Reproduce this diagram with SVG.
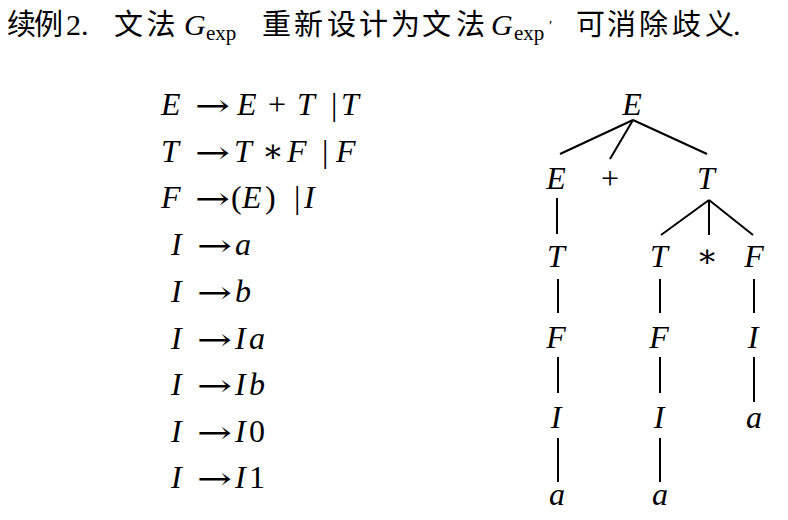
<svg xmlns="http://www.w3.org/2000/svg" width="788" height="520" viewBox="0 0 788 520">
<style>
.cjk{font-family:"Noto Sans CJK SC","Noto Sans CJK JP",sans-serif;font-size:29px;fill:#000}
.rm{font-family:"Liberation Serif","DejaVu Serif",serif;font-size:32px;fill:#000}
.ar{font-family:"DejaVu Serif","DejaVu Sans",serif;font-size:30px;fill:#000}
.it{font-family:"Liberation Serif","DejaVu Serif",serif;font-size:32px;font-style:italic;fill:#000}
.tr{text-anchor:middle}
.sub{font-family:"Liberation Serif","DejaVu Serif",serif;font-size:21px;fill:#000}
.edge{stroke:#000;stroke-width:2;fill:none;stroke-linecap:butt}
</style>
<rect width="788" height="520" fill="#fff"/>
<g id="title">
<text class="cjk" x="7 34" y="35">续例</text>
<text class="rm" x="66" y="35" style="font-size:30px">2.</text>
<text class="cjk" x="114 146.5" y="35">文法</text>
<text class="it" x="184" y="35" style="font-size:30px">G</text>
<text class="sub" x="206" y="40">exp</text>
<text class="cjk" x="262 294 327 359 391 422 456" y="35">重新设计为文法</text>
<text class="it" x="491" y="35" style="font-size:30px">G</text>
<text class="sub" x="514" y="40">exp</text>
<text class="sub" x="549" y="31" style="font-size:15px">′</text>
<text class="cjk" x="576 607 639 672 705" y="35">可消除歧义</text>
<text class="rm" x="733" y="35" style="font-size:30px">.</text>
</g>
<g id="grammar">
<g id="rule-E">
<text class="it" x="161" y="115">E</text><text class="ar" x="195" y="116" textLength="35" lengthAdjust="spacingAndGlyphs">→</text>
<text class="it" x="237" y="115">E</text><text class="rm" x="268" y="115">+</text><text class="it" x="297" y="115">T</text>
<text class="rm" x="331" y="115">|</text><text class="it" x="341" y="115">T</text>
</g>
<g id="rule-T">
<text class="it" x="161" y="162">T</text><text class="ar" x="195" y="163" textLength="35" lengthAdjust="spacingAndGlyphs">→</text>
<text class="it" x="234" y="162">T</text><text class="rm" x="262" y="162">∗</text><text class="it" x="287" y="162">F</text>
<text class="rm" x="322" y="162">|</text><text class="it" x="336" y="162">F</text>
</g>
<g id="rule-F">
<text class="it" x="161" y="208">F</text><text class="ar" x="195" y="209" textLength="35" lengthAdjust="spacingAndGlyphs">→</text>
<text class="rm" x="231" y="208">(</text><text class="it" x="242" y="208">E</text><text class="rm" x="265" y="208">)</text>
<text class="rm" x="294" y="208">|</text><text class="it" x="304" y="208">I</text>
</g>
<g id="rule-I1"><text class="it" x="171" y="255">I</text><text class="ar" x="197" y="256" textLength="35" lengthAdjust="spacingAndGlyphs">→</text><text class="it" x="235" y="255">a</text></g>
<g id="rule-I2"><text class="it" x="171" y="302">I</text><text class="ar" x="197" y="303" textLength="35" lengthAdjust="spacingAndGlyphs">→</text><text class="it" x="235" y="302">b</text></g>
<g id="rule-I3"><text class="it" x="171" y="349">I</text><text class="ar" x="197" y="350" textLength="35" lengthAdjust="spacingAndGlyphs">→</text><text class="it" x="235" y="349">I</text><text class="it" x="249" y="349">a</text></g>
<g id="rule-I4"><text class="it" x="171" y="395">I</text><text class="ar" x="197" y="396" textLength="35" lengthAdjust="spacingAndGlyphs">→</text><text class="it" x="235" y="395">I</text><text class="it" x="249" y="395">b</text></g>
<g id="rule-I5"><text class="it" x="171" y="442">I</text><text class="ar" x="197" y="443" textLength="35" lengthAdjust="spacingAndGlyphs">→</text><text class="it" x="235" y="442">I</text><text class="rm" x="249" y="442">0</text></g>
<g id="rule-I6"><text class="it" x="171" y="488">I</text><text class="ar" x="197" y="489" textLength="35" lengthAdjust="spacingAndGlyphs">→</text><text class="it" x="235" y="488">I</text><text class="rm" x="249" y="488">1</text></g>
</g>
<g id="connectors">
<line class="edge" x1="633" y1="120" x2="560" y2="154"/>
<line class="edge" x1="633" y1="120" x2="610" y2="159"/>
<line class="edge" x1="633" y1="120" x2="707" y2="154"/>
<line class="edge" x1="557" y1="198" x2="557" y2="234"/>
<line class="edge" x1="709" y1="200" x2="661" y2="235"/>
<line class="edge" x1="709" y1="200" x2="709" y2="235"/>
<line class="edge" x1="709" y1="200" x2="753" y2="235"/>
<line class="edge" x1="558" y1="279" x2="558" y2="313"/>
<line class="edge" x1="660" y1="279" x2="660" y2="313"/>
<line class="edge" x1="754" y1="279" x2="754" y2="313"/>
<line class="edge" x1="558" y1="357" x2="558" y2="393"/>
<line class="edge" x1="660" y1="357" x2="660" y2="393"/>
<line class="edge" x1="754" y1="357" x2="754" y2="402"/>
<line class="edge" x1="558" y1="438" x2="558" y2="482"/>
<line class="edge" x1="660" y1="438" x2="660" y2="482"/>
</g>
<g id="n-E-root"><text class="it tr" x="632" y="115">E</text></g>
<g id="n-E"><text class="it tr" x="556" y="189">E</text></g>
<g id="n-plus"><text class="rm tr" x="610" y="189">+</text></g>
<g id="n-T"><text class="it tr" x="706" y="189">T</text></g>
<g id="n-T-left"><text class="it tr" x="556" y="267">T</text></g>
<g id="n-T-mid"><text class="it tr" x="659" y="267">T</text></g>
<g id="n-star"><text class="rm tr" x="707" y="267">∗</text></g>
<g id="n-F-right"><text class="it tr" x="754" y="267">F</text></g>
<g id="n-F-left"><text class="it tr" x="556" y="348">F</text></g>
<g id="n-F-mid"><text class="it tr" x="659" y="348">F</text></g>
<g id="n-I-right"><text class="it tr" x="753" y="348">I</text></g>
<g id="n-I-left"><text class="it tr" x="556" y="428">I</text></g>
<g id="n-I-mid"><text class="it tr" x="659" y="428">I</text></g>
<g id="n-a-right"><text class="it tr" x="754" y="428">a</text></g>
<g id="n-a-left"><text class="it tr" x="557" y="505">a</text></g>
<g id="n-a-mid"><text class="it tr" x="660" y="505">a</text></g>
</svg>
